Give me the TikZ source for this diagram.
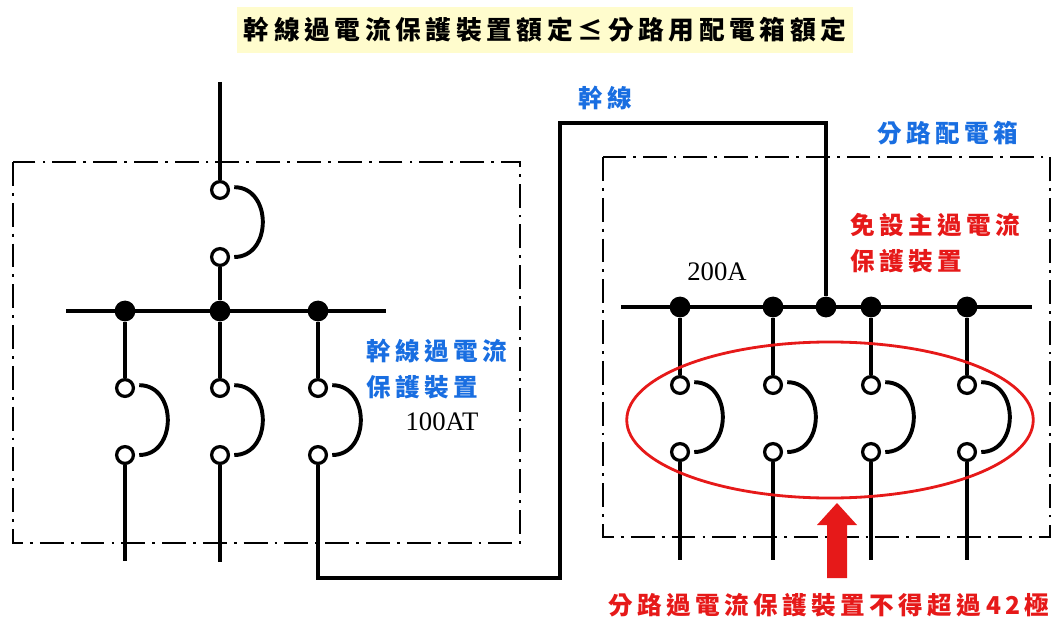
\documentclass[tikz,border=0pt]{standalone}
\usepackage{fontspec}
\setmainfont{Liberation Serif}
\newfontfamily\cjk[LetterSpace=18]{Noto Sans CJK TC}
\definecolor{lblue}{RGB}{25,110,225}
\definecolor{lred}{RGB}{230,25,25}
\definecolor{tyel}{RGB}{255,252,205}
\tikzset{
	wire/.style={line width=3pt},
	term/.style={circle,draw,line width=2.3pt,fill=white,minimum size=.42cm,inner sep=0pt},
	jn/.style={circle,fill=black,minimum size=.52cm,inner sep=0pt},
	bx/.style={line width=1.5pt,dash pattern=on 17pt off 5pt on 2pt off 5pt},
	brk/.style={line width=2.8pt,out=0,in=0,looseness=1.4},
	lbl/.style={font={\cjk\bfseries\fontsize{17.5}{26}\selectfont},align=left,inner sep=0pt},
	amp/.style={font={\fontsize{19}{21}\selectfont},inner sep=0pt},
}
\begin{document}
\begin{tikzpicture}[x=.025cm, y=-.025cm]
	\useasboundingbox (0,0) rectangle (1058,617);
	\node[fill=tyel, minimum width=15.4cm, minimum height=1.15cm, font={\cjk\bfseries\fontsize{18.3}{20}\selectfont}] (ttl) at (545,30) {幹線過電流保護裝置額定≤分路用配電箱額定};
	%Kasten
	\draw[bx] (13,162) rectangle (520,543);
	\draw[bx] (603,157) rectangle (1050,537);
	%links
	\coordinate (lin) at (220,82);
	\node[term] (lt0) at (220,190) {};
	\node[term] (lb0) at (220,257) {};
	\node[jn]   (lj1) at (125,311) {};
	\node[jn]   (lj2) at (220,311) {};
	\node[jn]   (lj3) at (318,311) {};
	\coordinate (lbl) at (66,311);
	\coordinate (lbr) at (386,311);
	\node[term] (lt1) at (125,388) {};
	\node[term] (lb1) at (125,455) {};
	\node[term] (lt2) at (220,388) {};
	\node[term] (lb2) at (220,455) {};
	\node[term] (lt3) at (318,388) {};
	\node[term] (lb3) at (318,455) {};
	\coordinate (lo1) at (125,561);
	\coordinate (lo2) at (220,562);
	\draw[wire] (lin) -- (lt0);
	\draw[wire] (lb0) -- (lj2);
	\draw[wire] (lbl) -- (lbr);
	\draw[wire] (lj1) -- (lt1);
	\draw[wire] (lj2) -- (lt2);
	\draw[wire] (lj3) -- (lt3);
	\draw[wire] (lb1) -- (lo1);
	\draw[wire] (lb2) -- (lo2);
	\draw[brk] ([xshift=3pt,yshift=2pt]lt0.east) to ([xshift=3pt]lb0.east);
	\draw[brk] ([xshift=3pt,yshift=2pt]lt1.east) to ([xshift=3pt]lb1.east);
	\draw[brk] ([xshift=3pt,yshift=2pt]lt2.east) to ([xshift=3pt]lb2.east);
	\draw[brk] ([xshift=3pt,yshift=2pt]lt3.east) to ([xshift=3pt]lb3.east);
	%rechts
	\node[jn]   (rj1) at (680,307) {};
	\node[jn]   (rj2) at (773,307) {};
	\node[jn]   (rjf) at (826,307) {};
	\node[jn]   (rj3) at (871,307) {};
	\node[jn]   (rj4) at (967,307) {};
	\coordinate (rbl) at (621,307);
	\coordinate (rbr) at (1032,307);
	\node[term] (rt1) at (680,385) {};
	\node[term] (rb1) at (680,452) {};
	\node[term] (rt2) at (773,385) {};
	\node[term] (rb2) at (773,452) {};
	\node[term] (rt3) at (871,385) {};
	\node[term] (rb3) at (871,452) {};
	\node[term] (rt4) at (967,385) {};
	\node[term] (rb4) at (967,452) {};
	\coordinate (ro1) at (680,560);
	\coordinate (ro2) at (773,560);
	\coordinate (ro3) at (871,560);
	\coordinate (ro4) at (967,560);
	\draw[wire] (rbl) -- (rbr);
	\draw[wire] (rj1) -- (rt1);
	\draw[wire] (rj2) -- (rt2);
	\draw[wire] (rj3) -- (rt3);
	\draw[wire] (rj4) -- (rt4);
	\draw[wire] (rb1) -- (ro1);
	\draw[wire] (rb2) -- (ro2);
	\draw[wire] (rb3) -- (ro3);
	\draw[wire] (rb4) -- (ro4);
	\draw[brk] ([xshift=3pt,yshift=2pt]rt1.east) to ([xshift=3pt]rb1.east);
	\draw[brk] ([xshift=3pt,yshift=2pt]rt2.east) to ([xshift=3pt]rb2.east);
	\draw[brk] ([xshift=3pt,yshift=2pt]rt3.east) to ([xshift=3pt]rb3.east);
	\draw[brk] ([xshift=3pt,yshift=2pt]rt4.east) to ([xshift=3pt]rb4.east);
	%Zuleitung
	\coordinate (fa) at (318,578);
	\coordinate (fb) at (560,578);
	\coordinate (fc) at (560,123);
	\coordinate (fd) at (826,123);
	\draw[wire] (lb3) -- (fa) -- (fb) -- (fc) -- (fd) -- (rjf);
	%rot
	\draw[lred, line width=2pt] (830,420) ellipse [x radius=5.08cm, y radius=1.95cm];
	\fill[lred] (837,503) -- (857,525) -- (847,525) -- (847,578) -- (827,578) -- (827,525) -- (817,525) -- cycle;
	%Texte
	\node[lbl, text=lblue] (tfd) at (605,98) {幹線};
	\node[lbl, text=lblue] (tpb) at (948,133) {分路配電箱};
	\node[lbl, text=lred, anchor=west] (tno) at (850,243) {免設主過電流\\保護裝置};
	\node[amp] (t200) at (717,272) {200A};
	\node[lbl, text=lblue, anchor=west] (tmo) at (366,369) {幹線過電流\\保護裝置};
	\node[amp] (t100) at (442,422) {100AT};
	\node[lbl, text=lred] (tlim) at (829,605) {分路過電流保護裝置不得超過42極};
\end{tikzpicture}
\end{document}
